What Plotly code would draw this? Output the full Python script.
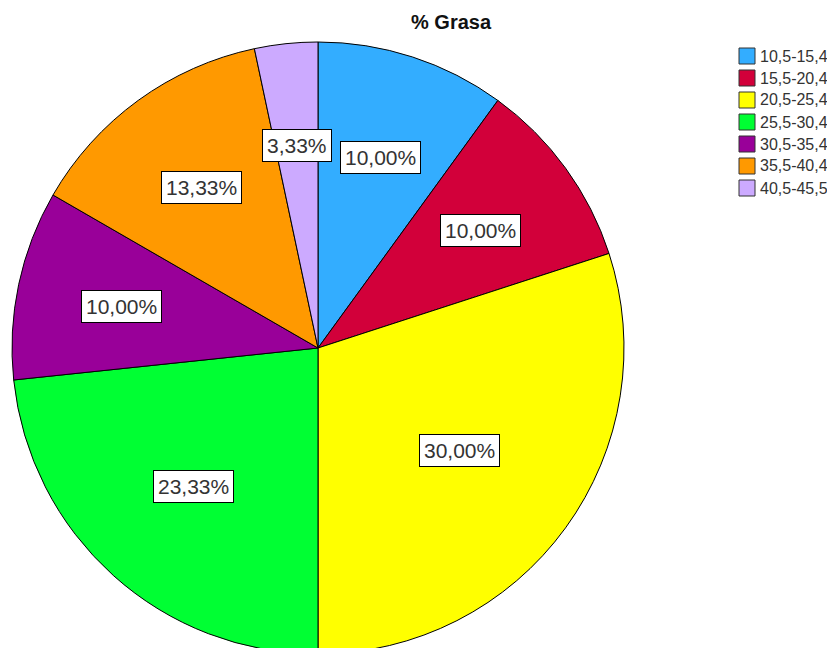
import math
import plotly.graph_objects as go

# ---- data ----
categories = ["10,5-15,4", "15,5-20,4", "20,5-25,4", "25,5-30,4",
              "30,5-35,4", "35,5-40,4", "40,5-45,5"]
counts = [3, 3, 9, 7, 3, 4, 1]
colors = ["#33ADFF", "#D2003A", "#FFFF00", "#00FF33",
          "#990099", "#FF9900", "#CCAAFF"]
title_text = "% Grasa"

W, H = 835, 648
OFF = 8  # page body margin offset
FONT = "Liberation Sans, Arial, sans-serif"
TXT = "#333333"

# pie geometry in screen pixels
cx, cy, r = 318, 348, 306

def px2paper(x, y):
    return (x - OFF) / W, 1 - (y - OFF) / H

fig = go.Figure()
dx0, dy0 = px2paper(cx - r, cy + r)
dx1, dy1 = px2paper(cx + r, cy - r)
fig.add_trace(go.Pie(
    labels=categories, values=counts, sort=False, direction="clockwise",
    rotation=0, textinfo="none", hoverinfo="label+percent",
    marker=dict(colors=colors, line=dict(color="#000000", width=1)),
    domain=dict(x=[dx0, dx1], y=[max(dy0, 0), dy1]),
    showlegend=False,
))

annotations = []
total = sum(counts)
start = 0.0
for cat, v in zip(categories, counts):
    frac = v / total
    span = frac * 2 * math.pi
    mid = start + span / 2
    a = span / 2
    d = 2 * r * math.sin(a) / (3 * a)
    lx = cx + d * math.sin(mid)
    ly = cy - d * math.cos(mid)
    xp, yp = px2paper(lx, ly)
    pct = f"{frac * 100:.2f}".replace(".", ",") + "%"
    annotations.append(dict(
        x=xp, y=yp, xref="paper", yref="paper", text=pct, showarrow=False,
        xanchor="center", yanchor="middle",
        font=dict(family=FONT, size=21, color=TXT),
        bgcolor="#FFFFFF", bordercolor="#000000", borderwidth=1, borderpad=4,
    ))
    start += span

# title
tx, ty = px2paper(452, 22)
annotations.append(dict(
    x=tx, y=ty, xref="paper", yref="paper", text="<b>" + title_text + "</b>",
    showarrow=False, xanchor="center", yanchor="middle",
    font=dict(family=FONT, size=20, color="#111111"),
))

# legend (manual)
shapes = []
lx0, top0, step, sz = 739, 48, 22, 16
for i, (cat, col) in enumerate(zip(categories, colors)):
    y0 = top0 + i * step
    x0p, y0p = px2paper(lx0, y0)
    x1p, y1p = px2paper(lx0 + sz, y0 + sz)
    shapes.append(dict(type="rect", xref="paper", yref="paper",
                       x0=x0p, x1=x1p, y0=y1p, y1=y0p,
                       fillcolor=col, line=dict(color="#333333", width=1)))
    txp, typ = px2paper(lx0 + sz + 3, y0 + sz / 2)
    annotations.append(dict(
        x=txp, y=typ, xref="paper", yref="paper", text=cat, showarrow=False,
        xanchor="left", yanchor="middle",
        font=dict(family=FONT, size=16, color=TXT),
    ))

fig.update_layout(
    width=W, height=H, margin=dict(l=0, r=0, t=0, b=0),
    paper_bgcolor="#FFFFFF", plot_bgcolor="#FFFFFF",
    annotations=annotations, shapes=shapes, showlegend=False,
)

fig.write_html("out.html")
